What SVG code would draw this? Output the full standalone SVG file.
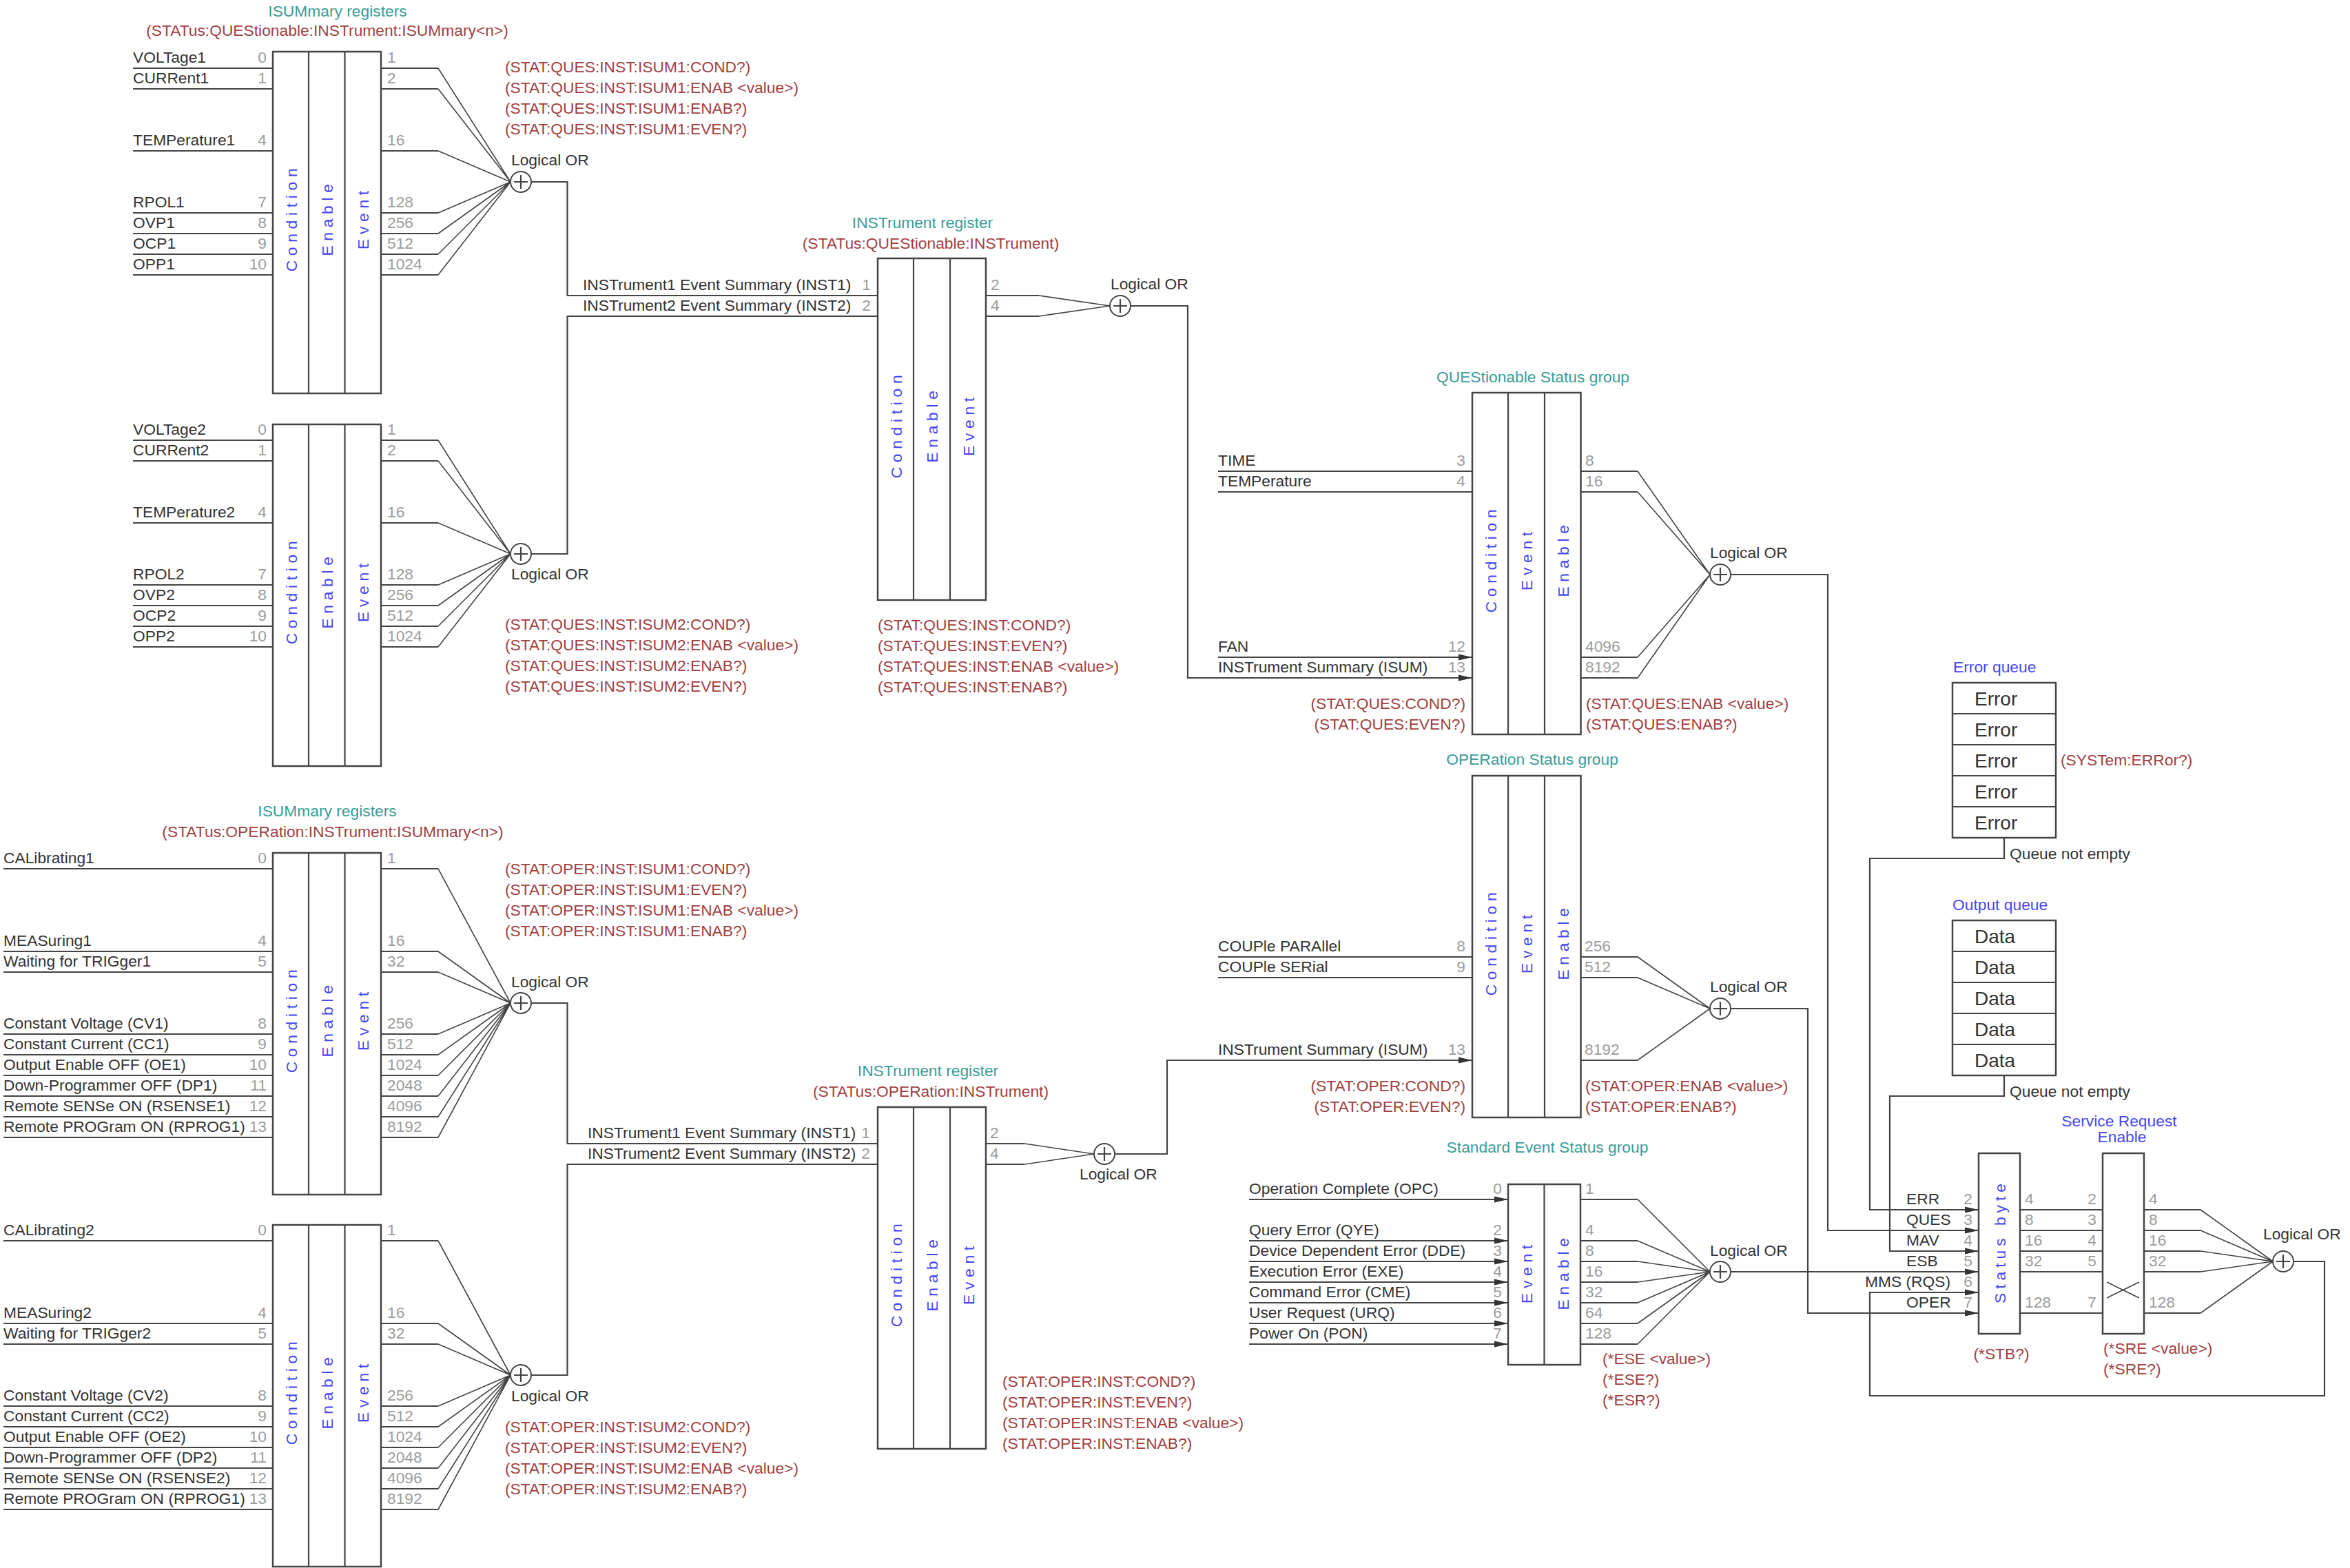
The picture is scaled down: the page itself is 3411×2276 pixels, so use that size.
<svg xmlns="http://www.w3.org/2000/svg" width="3411" height="2276" viewBox="0 0 3411 2276">
<style>
.ln{stroke:#444;stroke-width:2.2;fill:none}
.dg{stroke:#444;stroke-width:1.6;fill:none}
.box{fill:#fff;stroke:#444;stroke-width:2.5}
.orc{fill:#fff;stroke:#444;stroke-width:2}
text{font-family:"Liberation Sans",Arial,Helvetica,sans-serif;font-size:22.8px;fill:#333}
.g{fill:#9c9c9c}
.r{fill:#a23f3f}
.tl{fill:#3a9d97}
.b{fill:#4747f5}
.col{fill:#4747f5;letter-spacing:6.7px;text-anchor:middle}
.e{text-anchor:end}
.m{text-anchor:middle}
.q{font-size:28px}
</style>
<defs>
<marker id="arr" markerUnits="userSpaceOnUse" markerWidth="20" markerHeight="10" refX="20" refY="5" orient="auto"><path d="M0,0.5 L20,5 L0,9.5 z" fill="#333"/></marker>
</defs>
<rect width="3411" height="2276" fill="#fff"/>

<!-- ISUMmary QUES 1 -->
<g id="isum-ques-1">
<text class="tl m" x="490" y="24">ISUMmary registers</text>
<text class="r m" x="475" y="52">(STATus:QUEStionable:INSTrument:ISUMmary&lt;n&gt;)</text>
<path class="ln" d="M193,99H396M193,129H396M193,219H396M193,309H396M193,339H396M193,369H396M193,399H396"/>
<rect class="box" x="396" y="75" width="157" height="496"/>
<path class="ln" d="M448,75V571M500.5,75V571"/>
<text class="col" transform="translate(430.5,316) rotate(-90)">Condition</text>
<text class="col" transform="translate(482.5,316) rotate(-90)">Enable</text>
<text class="col" transform="translate(535,316) rotate(-90)">Event</text>
<text x="193" y="91">VOLTage1</text><text x="193" y="121">CURRent1</text><text x="193" y="211">TEMPerature1</text>
<text x="193" y="301">RPOL1</text><text x="193" y="331">OVP1</text><text x="193" y="361">OCP1</text><text x="193" y="391">OPP1</text>
<text class="g e" x="387" y="91">0</text><text class="g e" x="387" y="121">1</text><text class="g e" x="387" y="211">4</text>
<text class="g e" x="387" y="301">7</text><text class="g e" x="387" y="331">8</text><text class="g e" x="387" y="361">9</text><text class="g e" x="387" y="391">10</text>
<text class="g" x="562" y="91">1</text><text class="g" x="562" y="121">2</text><text class="g" x="562" y="211">16</text>
<text class="g" x="562" y="301">128</text><text class="g" x="562" y="331">256</text><text class="g" x="562" y="361">512</text><text class="g" x="562" y="391">1024</text>
<path class="ln" d="M553,99H636M553,129H636M553,219H636M553,309H636M553,339H636M553,369H636M553,399H636"/>
<path class="dg" d="M636,99L741,264M636,129L741,264M636,219L741,264M636,309L741,264M636,339L741,264M636,369L741,264M636,399L741,264"/>
<text class="r" x="733" y="105">(STAT:QUES:INST:ISUM1:COND?)</text>
<text class="r" x="733" y="135">(STAT:QUES:INST:ISUM1:ENAB &lt;value&gt;)</text>
<text class="r" x="733" y="165">(STAT:QUES:INST:ISUM1:ENAB?)</text>
<text class="r" x="733" y="195">(STAT:QUES:INST:ISUM1:EVEN?)</text>
<circle class="orc" cx="756" cy="264" r="15"/><path class="ln" d="M746,264H766M756,254V274"/>
<text x="742" y="240">Logical OR</text>
</g>

<!-- ISUMmary QUES 2 -->
<g id="isum-ques-2">
<path class="ln" d="M193,639H396M193,669H396M193,759H396M193,849H396M193,879H396M193,909H396M193,939H396"/>
<rect class="box" x="396" y="616" width="157" height="496"/>
<path class="ln" d="M448,616V1112M500.5,616V1112"/>
<text class="col" transform="translate(430.5,857) rotate(-90)">Condition</text>
<text class="col" transform="translate(482.5,857) rotate(-90)">Enable</text>
<text class="col" transform="translate(535,857) rotate(-90)">Event</text>
<text x="193" y="631">VOLTage2</text><text x="193" y="661">CURRent2</text><text x="193" y="751">TEMPerature2</text>
<text x="193" y="841">RPOL2</text><text x="193" y="871">OVP2</text><text x="193" y="901">OCP2</text><text x="193" y="931">OPP2</text>
<text class="g e" x="387" y="631">0</text><text class="g e" x="387" y="661">1</text><text class="g e" x="387" y="751">4</text>
<text class="g e" x="387" y="841">7</text><text class="g e" x="387" y="871">8</text><text class="g e" x="387" y="901">9</text><text class="g e" x="387" y="931">10</text>
<text class="g" x="562" y="631">1</text><text class="g" x="562" y="661">2</text><text class="g" x="562" y="751">16</text>
<text class="g" x="562" y="841">128</text><text class="g" x="562" y="871">256</text><text class="g" x="562" y="901">512</text><text class="g" x="562" y="931">1024</text>
<path class="ln" d="M553,639H636M553,669H636M553,759H636M553,849H636M553,879H636M553,909H636M553,939H636"/>
<path class="dg" d="M636,639L741,804M636,669L741,804M636,759L741,804M636,849L741,804M636,879L741,804M636,909L741,804M636,939L741,804"/>
<text class="r" x="733" y="914">(STAT:QUES:INST:ISUM2:COND?)</text>
<text class="r" x="733" y="944">(STAT:QUES:INST:ISUM2:ENAB &lt;value&gt;)</text>
<text class="r" x="733" y="974">(STAT:QUES:INST:ISUM2:ENAB?)</text>
<text class="r" x="733" y="1004">(STAT:QUES:INST:ISUM2:EVEN?)</text>
<circle class="orc" cx="756" cy="804" r="15"/><path class="ln" d="M746,804H766M756,794V814"/>
<text x="742" y="841">Logical OR</text>
</g>

<!-- ISUMmary OPER 1 -->
<g id="isum-oper-1">
<text class="tl m" x="475" y="1185">ISUMmary registers</text>
<text class="r m" x="483" y="1215">(STATus:OPERation:INSTrument:ISUMmary&lt;n&gt;)</text>
<path class="ln" d="M5,1261H396M5,1381H396M5,1411H396M5,1501H396M5,1531H396M5,1561H396M5,1591H396M5,1621H396M5,1651H396"/>
<rect class="box" x="396" y="1238" width="157" height="496"/>
<path class="ln" d="M448,1238V1734M500.5,1238V1734"/>
<text class="col" transform="translate(430.5,1479) rotate(-90)">Condition</text>
<text class="col" transform="translate(482.5,1479) rotate(-90)">Enable</text>
<text class="col" transform="translate(535,1479) rotate(-90)">Event</text>
<text x="5" y="1253">CALibrating1</text><text x="5" y="1373">MEASuring1</text><text x="5" y="1403">Waiting for TRIGger1</text>
<text x="5" y="1493">Constant Voltage (CV1)</text><text x="5" y="1523">Constant Current (CC1)</text><text x="5" y="1553">Output Enable OFF (OE1)</text>
<text x="5" y="1583">Down-Programmer OFF (DP1)</text><text x="5" y="1613">Remote SENSe ON (RSENSE1)</text><text x="5" y="1643">Remote PROGram ON (RPROG1)</text>
<text class="g e" x="387" y="1253">0</text><text class="g e" x="387" y="1373">4</text><text class="g e" x="387" y="1403">5</text>
<text class="g e" x="387" y="1493">8</text><text class="g e" x="387" y="1523">9</text><text class="g e" x="387" y="1553">10</text>
<text class="g e" x="387" y="1583">11</text><text class="g e" x="387" y="1613">12</text><text class="g e" x="387" y="1643">13</text>
<text class="g" x="562" y="1253">1</text><text class="g" x="562" y="1373">16</text><text class="g" x="562" y="1403">32</text>
<text class="g" x="562" y="1493">256</text><text class="g" x="562" y="1523">512</text><text class="g" x="562" y="1553">1024</text>
<text class="g" x="562" y="1583">2048</text><text class="g" x="562" y="1613">4096</text><text class="g" x="562" y="1643">8192</text>
<path class="ln" d="M553,1261H636M553,1381H636M553,1411H636M553,1501H636M553,1531H636M553,1561H636M553,1591H636M553,1621H636M553,1651H636"/>
<path class="dg" d="M636,1261L741,1456M636,1381L741,1456M636,1411L741,1456M636,1501L741,1456M636,1531L741,1456M636,1561L741,1456M636,1591L741,1456M636,1621L741,1456M636,1651L741,1456"/>
<text class="r" x="733" y="1269">(STAT:OPER:INST:ISUM1:COND?)</text>
<text class="r" x="733" y="1299">(STAT:OPER:INST:ISUM1:EVEN?)</text>
<text class="r" x="733" y="1329">(STAT:OPER:INST:ISUM1:ENAB &lt;value&gt;)</text>
<text class="r" x="733" y="1359">(STAT:OPER:INST:ISUM1:ENAB?)</text>
<circle class="orc" cx="756" cy="1456" r="15"/><path class="ln" d="M746,1456H766M756,1446V1466"/>
<text x="742" y="1433">Logical OR</text>
</g>

<!-- ISUMmary OPER 2 -->
<g id="isum-oper-2">
<path class="ln" d="M5,1801H396M5,1921H396M5,1951H396M5,2041H396M5,2071H396M5,2101H396M5,2131H396M5,2161H396M5,2191H396"/>
<rect class="box" x="396" y="1778" width="157" height="496"/>
<path class="ln" d="M448,1778V2274M500.5,1778V2274"/>
<text class="col" transform="translate(430.5,2019) rotate(-90)">Condition</text>
<text class="col" transform="translate(482.5,2019) rotate(-90)">Enable</text>
<text class="col" transform="translate(535,2019) rotate(-90)">Event</text>
<text x="5" y="1793">CALibrating2</text><text x="5" y="1913">MEASuring2</text><text x="5" y="1943">Waiting for TRIGger2</text>
<text x="5" y="2033">Constant Voltage (CV2)</text><text x="5" y="2063">Constant Current (CC2)</text><text x="5" y="2093">Output Enable OFF (OE2)</text>
<text x="5" y="2123">Down-Programmer OFF (DP2)</text><text x="5" y="2153">Remote SENSe ON (RSENSE2)</text><text x="5" y="2183">Remote PROGram ON (RPROG1)</text>
<text class="g e" x="387" y="1793">0</text><text class="g e" x="387" y="1913">4</text><text class="g e" x="387" y="1943">5</text>
<text class="g e" x="387" y="2033">8</text><text class="g e" x="387" y="2063">9</text><text class="g e" x="387" y="2093">10</text>
<text class="g e" x="387" y="2123">11</text><text class="g e" x="387" y="2153">12</text><text class="g e" x="387" y="2183">13</text>
<text class="g" x="562" y="1793">1</text><text class="g" x="562" y="1913">16</text><text class="g" x="562" y="1943">32</text>
<text class="g" x="562" y="2033">256</text><text class="g" x="562" y="2063">512</text><text class="g" x="562" y="2093">1024</text>
<text class="g" x="562" y="2123">2048</text><text class="g" x="562" y="2153">4096</text><text class="g" x="562" y="2183">8192</text>
<path class="ln" d="M553,1801H636M553,1921H636M553,1951H636M553,2041H636M553,2071H636M553,2101H636M553,2131H636M553,2161H636M553,2191H636"/>
<path class="dg" d="M636,1801L741,1996M636,1921L741,1996M636,1951L741,1996M636,2041L741,1996M636,2071L741,1996M636,2101L741,1996M636,2131L741,1996M636,2161L741,1996M636,2191L741,1996"/>
<text class="r" x="733" y="2079">(STAT:OPER:INST:ISUM2:COND?)</text>
<text class="r" x="733" y="2109">(STAT:OPER:INST:ISUM2:EVEN?)</text>
<text class="r" x="733" y="2139">(STAT:OPER:INST:ISUM2:ENAB &lt;value&gt;)</text>
<text class="r" x="733" y="2169">(STAT:OPER:INST:ISUM2:ENAB?)</text>
<circle class="orc" cx="756" cy="1996" r="15"/><path class="ln" d="M746,1996H766M756,1986V2006"/>
<text x="742" y="2034">Logical OR</text>
</g>

<!-- INSTrument register QUES -->
<g id="inst-ques">
<text class="tl m" x="1339" y="331">INSTrument register</text>
<text class="r m" x="1351" y="361">(STATus:QUEStionable:INSTrument)</text>
<rect class="box" x="1274" y="375" width="157" height="496"/>
<path class="ln" d="M1326,375V871M1379,375V871"/>
<text class="col" transform="translate(1308.5,616) rotate(-90)">Condition</text>
<text class="col" transform="translate(1361,616) rotate(-90)">Enable</text>
<text class="col" transform="translate(1413.5,616) rotate(-90)">Event</text>
<text x="846" y="421">INSTrument1 Event Summary (INST1)</text>
<text x="846" y="451">INSTrument2 Event Summary (INST2)</text>
<text class="g e" x="1264" y="421">1</text><text class="g e" x="1264" y="451">2</text>
<text class="g" x="1438" y="421">2</text><text class="g" x="1438" y="451">4</text>
<path class="ln" d="M1431,429H1508M1431,459H1508"/>
<path class="dg" d="M1508,429L1611,444M1508,459L1611,444"/>
<text class="r" x="1274" y="915">(STAT:QUES:INST:COND?)</text>
<text class="r" x="1274" y="945">(STAT:QUES:INST:EVEN?)</text>
<text class="r" x="1274" y="975">(STAT:QUES:INST:ENAB &lt;value&gt;)</text>
<text class="r" x="1274" y="1005">(STAT:QUES:INST:ENAB?)</text>
<circle class="orc" cx="1626" cy="444" r="15"/><path class="ln" d="M1616,444H1636M1626,434V454"/>
<text x="1612" y="420">Logical OR</text>
</g>

<!-- INSTrument register OPER -->
<g id="inst-oper">
<text class="tl m" x="1347" y="1562">INSTrument register</text>
<text class="r m" x="1351" y="1592">(STATus:OPERation:INSTrument)</text>
<rect class="box" x="1274" y="1607" width="157" height="496"/>
<path class="ln" d="M1326,1607V2103M1379,1607V2103"/>
<text class="col" transform="translate(1308.5,1848) rotate(-90)">Condition</text>
<text class="col" transform="translate(1361,1848) rotate(-90)">Enable</text>
<text class="col" transform="translate(1413.5,1848) rotate(-90)">Event</text>
<text x="853" y="1652">INSTrument1 Event Summary (INST1)</text>
<text x="853" y="1682">INSTrument2 Event Summary (INST2)</text>
<text class="g e" x="1263" y="1652">1</text><text class="g e" x="1263" y="1682">2</text>
<text class="g" x="1437" y="1652">2</text><text class="g" x="1437" y="1682">4</text>
<path class="ln" d="M1431,1660H1487M1431,1690H1487"/>
<path class="dg" d="M1487,1660L1588,1675M1487,1690L1588,1675"/>
<text class="r" x="1455" y="2013">(STAT:OPER:INST:COND?)</text>
<text class="r" x="1455" y="2043">(STAT:OPER:INST:EVEN?)</text>
<text class="r" x="1455" y="2073">(STAT:OPER:INST:ENAB &lt;value&gt;)</text>
<text class="r" x="1455" y="2103">(STAT:OPER:INST:ENAB?)</text>
<circle class="orc" cx="1603" cy="1675" r="15"/><path class="ln" d="M1593,1675H1613M1603,1665V1685"/>
<text x="1567" y="1712">Logical OR</text>
</g>

<!-- QUEStionable Status group -->
<g id="ques-group">
<text class="tl m" x="2225" y="555">QUEStionable Status group</text>
<path class="ln" d="M1768,684H2137M1768,714H2137"/>
<path class="ln" d="M1768,954H2137" marker-end="url(#arr)"/>
<rect class="box" x="2137" y="570" width="157.5" height="496"/>
<path class="ln" d="M2189,570V1066M2242,570V1066"/>
<text class="col" transform="translate(2171.5,811) rotate(-90)">Condition</text>
<text class="col" transform="translate(2224,811) rotate(-90)">Event</text>
<text class="col" transform="translate(2277,811) rotate(-90)">Enable</text>
<text x="1768" y="676">TIME</text><text x="1768" y="706">TEMPerature</text><text x="1768" y="946">FAN</text><text x="1768" y="976">INSTrument Summary (ISUM)</text>
<text class="g e" x="2127" y="676">3</text><text class="g e" x="2127" y="706">4</text><text class="g e" x="2127" y="946">12</text><text class="g e" x="2127" y="976">13</text>
<text class="g" x="2301" y="676">8</text><text class="g" x="2301" y="706">16</text><text class="g" x="2301" y="946">4096</text><text class="g" x="2301" y="976">8192</text>
<path class="ln" d="M2294.5,684H2377M2294.5,714H2377M2294.5,954H2377M2294.5,984H2377"/>
<path class="dg" d="M2377,684L2482,834M2377,714L2482,834M2377,954L2482,834M2377,984L2482,834"/>
<text class="r e" x="2127" y="1029">(STAT:QUES:COND?)</text>
<text class="r e" x="2127" y="1059">(STAT:QUES:EVEN?)</text>
<text class="r" x="2302" y="1029">(STAT:QUES:ENAB &lt;value&gt;)</text>
<text class="r" x="2302" y="1059">(STAT:QUES:ENAB?)</text>
<circle class="orc" cx="2497" cy="834" r="15"/><path class="ln" d="M2487,834H2507M2497,824V844"/>
<text x="2482" y="810">Logical OR</text>
</g>

<!-- OPERation Status group -->
<g id="oper-group">
<text class="tl m" x="2224" y="1110">OPERation Status group</text>
<path class="ln" d="M1768,1389H2137M1768,1419H2137"/>
<rect class="box" x="2137" y="1126" width="157.5" height="496"/>
<path class="ln" d="M2189,1126V1622M2242,1126V1622"/>
<text class="col" transform="translate(2171.5,1367) rotate(-90)">Condition</text>
<text class="col" transform="translate(2224,1367) rotate(-90)">Event</text>
<text class="col" transform="translate(2277,1367) rotate(-90)">Enable</text>
<text x="1768" y="1381">COUPle PARAllel</text><text x="1768" y="1411">COUPle SERial</text><text x="1768" y="1531">INSTrument Summary (ISUM)</text>
<text class="g e" x="2127" y="1381">8</text><text class="g e" x="2127" y="1411">9</text><text class="g e" x="2127" y="1531">13</text>
<text class="g" x="2300" y="1381">256</text><text class="g" x="2300" y="1411">512</text><text class="g" x="2300" y="1531">8192</text>
<path class="ln" d="M2294.5,1389H2377M2294.5,1419H2377M2294.5,1539H2377"/>
<path class="dg" d="M2377,1389L2482,1464M2377,1419L2482,1464M2377,1539L2482,1464"/>
<text class="r e" x="2127" y="1584">(STAT:OPER:COND?)</text>
<text class="r e" x="2127" y="1614">(STAT:OPER:EVEN?)</text>
<text class="r" x="2301" y="1584">(STAT:OPER:ENAB &lt;value&gt;)</text>
<text class="r" x="2301" y="1614">(STAT:OPER:ENAB?)</text>
<circle class="orc" cx="2497" cy="1464" r="15"/><path class="ln" d="M2487,1464H2507M2497,1454V1474"/>
<text x="2482" y="1440">Logical OR</text>
</g>

<!-- Standard Event Status group -->
<g id="std-event-group">
<text class="tl m" x="2246" y="1673">Standard Event Status group</text>
<g class="ln">
<path d="M1813,1741H2189" marker-end="url(#arr)"/><path d="M1813,1801H2189" marker-end="url(#arr)"/><path d="M1813,1831H2189" marker-end="url(#arr)"/>
<path d="M1813,1861H2189" marker-end="url(#arr)"/><path d="M1813,1891H2189" marker-end="url(#arr)"/><path d="M1813,1921H2189" marker-end="url(#arr)"/><path d="M1813,1951H2189" marker-end="url(#arr)"/>
</g>
<rect class="box" x="2189" y="1719" width="105" height="262"/>
<path class="ln" d="M2241.5,1719V1981"/>
<text class="col" transform="translate(2224,1846) rotate(-90)">Event</text>
<text class="col" transform="translate(2276.5,1846) rotate(-90)">Enable</text>
<text x="1813" y="1733">Operation Complete (OPC)</text><text x="1813" y="1793">Query Error (QYE)</text><text x="1813" y="1823">Device Dependent Error (DDE)</text>
<text x="1813" y="1853">Execution Error (EXE)</text><text x="1813" y="1883">Command Error (CME)</text><text x="1813" y="1913">User Request (URQ)</text><text x="1813" y="1943">Power On (PON)</text>
<text class="g e" x="2180" y="1733">0</text><text class="g e" x="2180" y="1793">2</text><text class="g e" x="2180" y="1823">3</text><text class="g e" x="2180" y="1853">4</text>
<text class="g e" x="2180" y="1883">5</text><text class="g e" x="2180" y="1913">6</text><text class="g e" x="2180" y="1943">7</text>
<text class="g" x="2301" y="1733">1</text><text class="g" x="2301" y="1793">4</text><text class="g" x="2301" y="1823">8</text><text class="g" x="2301" y="1853">16</text>
<text class="g" x="2301" y="1883">32</text><text class="g" x="2301" y="1913">64</text><text class="g" x="2301" y="1943">128</text>
<path class="ln" d="M2294,1741H2377M2294,1801H2377M2294,1831H2377M2294,1861H2377M2294,1891H2377M2294,1921H2377M2294,1951H2377"/>
<path class="dg" d="M2377,1741L2482,1846M2377,1801L2482,1846M2377,1831L2482,1846M2377,1861L2482,1846M2377,1891L2482,1846M2377,1921L2482,1846M2377,1951L2482,1846"/>
<text class="r" x="2326" y="1980">(*ESE &lt;value&gt;)</text>
<text class="r" x="2326" y="2010">(*ESE?)</text>
<text class="r" x="2326" y="2040">(*ESR?)</text>
<circle class="orc" cx="2497" cy="1846" r="15"/><path class="ln" d="M2487,1846H2507M2497,1836V1856"/>
<text x="2482" y="1823">Logical OR</text>
</g>

<!-- Error queue -->
<g id="error-queue">
<text class="b" x="2835" y="976">Error queue</text>
<rect class="box" x="2834" y="991" width="150" height="225"/>
<path class="ln" d="M2834,1036H2984M2834,1081H2984M2834,1126H2984M2834,1171H2984"/>
<text class="q" x="2866" y="1024">Error</text><text class="q" x="2866" y="1069">Error</text><text class="q" x="2866" y="1114">Error</text>
<text class="q" x="2866" y="1159">Error</text><text class="q" x="2866" y="1204">Error</text>
<text class="r" x="2991" y="1111">(SYSTem:ERRor?)</text>
<text x="2917" y="1247">Queue not empty</text>
</g>

<!-- Output queue -->
<g id="output-queue">
<text class="b" x="2834" y="1321">Output queue</text>
<rect class="box" x="2834" y="1336" width="150" height="225"/>
<path class="ln" d="M2834,1381H2984M2834,1426H2984M2834,1471H2984M2834,1516H2984"/>
<text class="q" x="2866" y="1369">Data</text><text class="q" x="2866" y="1414">Data</text><text class="q" x="2866" y="1459">Data</text>
<text class="q" x="2866" y="1504">Data</text><text class="q" x="2866" y="1549">Data</text>
<text x="2917" y="1592">Queue not empty</text>
</g>

<!-- Status byte -->
<g id="status-byte">
<rect class="box" x="2872" y="1674" width="60" height="262"/>
<text class="col" transform="translate(2910.5,1802) rotate(-90)" style="letter-spacing:6px">Status byte</text>
<text x="2767" y="1748">ERR</text><text x="2767" y="1778">QUES</text><text x="2767" y="1808">MAV</text>
<text x="2767" y="1838">ESB</text><text x="2707" y="1868">MMS (RQS)</text><text x="2767" y="1898">OPER</text>
<text class="g e" x="2863" y="1748">2</text><text class="g e" x="2863" y="1778">3</text><text class="g e" x="2863" y="1808">4</text>
<text class="g e" x="2863" y="1838">5</text><text class="g e" x="2863" y="1868">6</text><text class="g e" x="2863" y="1898">7</text>
<text class="g" x="2939" y="1748">4</text><text class="g" x="2939" y="1778">8</text><text class="g" x="2939" y="1808">16</text>
<text class="g" x="2939" y="1838">32</text><text class="g" x="2939" y="1898">128</text>
<text class="r m" x="2905" y="1973">(*STB?)</text>
</g>

<!-- Service Request Enable -->
<g id="service-request-enable">
<text class="b m" x="3076" y="1635">Service Request</text>
<text class="b m" x="3080" y="1658">Enable</text>
<rect class="box" x="3052" y="1674" width="60" height="262"/>
<path class="dg" d="M3058,1861L3105,1884M3058,1884L3105,1861"/>
<text class="g e" x="3043" y="1748">2</text><text class="g e" x="3043" y="1778">3</text><text class="g e" x="3043" y="1808">4</text>
<text class="g e" x="3043" y="1838">5</text><text class="g e" x="3043" y="1898">7</text>
<text class="g" x="3119" y="1748">4</text><text class="g" x="3119" y="1778">8</text><text class="g" x="3119" y="1808">16</text>
<text class="g" x="3119" y="1838">32</text><text class="g" x="3119" y="1898">128</text>
<path class="ln" d="M3112,1756H3194M3112,1786H3194M3112,1816H3194M3112,1846H3194M3112,1906H3194"/>
<path class="dg" d="M3194,1756L3299,1831M3194,1786L3299,1831M3194,1816L3299,1831M3194,1846L3299,1831M3194,1906L3299,1831"/>
<text class="r" x="3053" y="1965">(*SRE &lt;value&gt;)</text>
<text class="r" x="3053" y="1995">(*SRE?)</text>
<circle class="orc" cx="3314" cy="1831" r="15"/><path class="ln" d="M3304,1831H3324M3314,1821V1841"/>
<text x="3285" y="1799">Logical OR</text>
</g>

<!-- Connectors -->
<g id="connectors" class="ln">
<path d="M771,264H823.5V429H1274"/>
<path d="M771,804H823.5V459H1274"/>
<path d="M771,1456H823.5V1660H1274"/>
<path d="M771,1996H823.5V1690H1274"/>
<path d="M1641,444H1724V984H2137" marker-end="url(#arr)"/>
<path d="M1618,1675H1694V1539H2137" marker-end="url(#arr)"/>
<path d="M2512,834H2653V1786H2872" marker-end="url(#arr)"/>
<path d="M2512,1464H2624V1906H2872" marker-end="url(#arr)"/>
<path d="M2512,1846H2872" marker-end="url(#arr)"/>
<path d="M2909,1216V1246H2714V1756H2872" marker-end="url(#arr)"/>
<path d="M2909,1561V1591H2743V1816H2872" marker-end="url(#arr)"/>
<path d="M3329,1831H3374V2026H2714V1876H2872" marker-end="url(#arr)"/>
<path d="M2932,1756H3052M2932,1786H3052M2932,1816H3052M2932,1846H3052M2932,1906H3052"/>
</g>
</svg>
